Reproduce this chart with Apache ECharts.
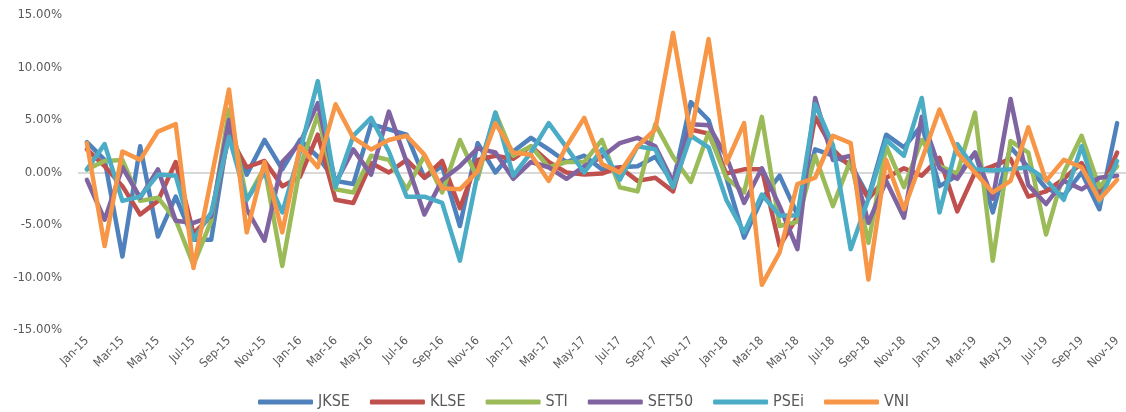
<!DOCTYPE html>
<html>
<head>
<meta charset="utf-8">
<script src="https://cdn.jsdelivr.net/npm/echarts@6/dist/echarts.min.js"></script>
<style>
  html, body { margin: 0; padding: 0; background: #fff; }
  #chart { width: 1126px; height: 412px; }
</style>
</head>
<body>
<div id="chart"></div>
<script>
// 月份
const months = [];
const monthNames = ['Jan','Feb','Mar','Apr','May','Jun','Jul','Aug','Sep','Oct','Nov','Dec'];
for (let y = 15; y <= 19; y++) {
  for (let m = 0; m < 12; m++) {
    if (y === 19 && m > 10) break;
    months.push(monthNames[m] + '-' + y);
  }
}

// 各指数月收益率 (%)
const JKSE = [2.9, 1.2, -8.0, 2.5, -6.1, -2.3, -6.4, -6.4, 4.2, -0.2,
  3.1, 0.3, 3.1, 1.5, -0.8, -1.1, 4.6, 4.1, 3.6, -0.5,
  0.6, -5.1, 2.8, 0.0, 2.0, 3.3, 2.2, 1.0, 1.6, 0.3,
  0.5, 0.6, 1.5, -1.0, 6.7, 5.0, -0.5, -6.2, -2.5, -0.3,
  -4.0, 2.2, 1.6, 0.8, -2.3, 3.6, 2.4, 4.5, -1.3, -0.3,
  1.9, -3.8, 2.4, 0.5, -1.5, -2.2, 0.0, -3.5, 4.7];
const KLSE = [2.2, 0.6, -1.3, -4.0, -2.7, 1.0, -5.8, -4.2, 3.5, 0.5,
  1.1, -1.3, -0.4, 3.6, -2.6, -2.9, 0.9, 0.0, 1.2, -0.5,
  1.1, -3.4, 1.2, 1.6, 1.3, 2.5, 1.0, 0.0, -0.2, -0.1,
  0.5, -0.8, -0.5, -1.8, 4.1, 3.7, -0.1, 0.3, 0.3, -7.0,
  -4.2, 5.3, 2.2, 0.5, -2.5, -0.5, 0.4, -0.3, 1.4, -3.7,
  0.0, 0.6, 1.3, -2.3, -1.8, -0.6, 0.9, -2.0, 1.9];
const STI = [0.3, 1.1, 1.2, -2.7, -2.4, -4.5, -8.8, -4.6, 6.0, -2.6,
  0.5, -8.9, 0.5, 5.5, -1.6, -1.9, 1.6, 1.2, -1.6, 1.6,
  -1.9, 3.1, -0.6, 5.7, 1.6, 2.5, 0.5, 1.0, 1.0, 3.1,
  -1.4, -1.8, 4.6, 1.5, -0.9, 3.8, -0.5, -1.9, 5.3, -5.1,
  -4.7, 1.6, -3.2, 1.2, -6.7, 2.5, -1.4, 3.1, 0.6, -0.1,
  5.7, -8.4, 3.0, 1.9, -5.9, 0.0, 3.5, -1.4, 0.6];
const SET50 = [-0.7, -4.5, 0.5, -2.4, 0.3, -4.6, -4.8, -4.2, 5.0, -3.5,
  -6.5, 1.0, 2.8, 6.6, -1.0, 2.2, -0.2, 5.8, 1.0, -4.0,
  -0.7, 0.6, 2.3, 1.9, -0.6, 1.0, 0.5, -0.6, 0.6, 1.5,
  2.8, 3.3, 2.5, -0.9, 4.6, 4.5, 1.5, -2.9, 0.4, -3.2,
  -7.3, 7.1, 1.2, 1.6, -4.8, -0.8, -4.3, 5.3, 0.4, -0.6,
  1.9, -2.5, 7.0, -1.2, -3.0, -0.8, -1.6, -0.5, -0.3];
const PSEi = [0.3, 2.7, -2.7, -2.3, -0.2, -0.3, -6.4, -3.8, 3.4, -2.6,
  0.0, -3.8, 2.0, 8.7, -1.4, 3.5, 5.2, 2.0, -2.3, -2.3,
  -2.9, -8.4, -0.1, 5.7, -0.3, 1.9, 4.7, 2.4, 0.0, 2.2,
  -0.7, 2.5, 2.2, -1.4, 3.5, 2.4, -2.6, -5.7, -2.1, -4.1,
  -4.1, 6.5, 2.6, -7.3, -2.5, 3.1, 1.6, 7.1, -3.8, 2.7,
  0.3, 0.2, 0.3, 0.5, -0.7, -2.6, 2.5, -2.8, 1.1];
const VNI = [2.8, -7.0, 2.0, 1.2, 3.9, 4.6, -9.1, -0.6, 7.9, -5.7,
  1.0, -5.7, 2.5, 0.5, 6.5, 3.3, 2.2, 3.1, 3.5, 1.7,
  -1.5, -1.6, 0.1, 4.7, 1.9, 1.7, -0.8, 2.5, 5.2, 0.8,
  0.0, 2.5, 4.1, 13.3, 3.5, 12.7, 0.9, 4.7, -10.7, -7.6,
  -1.1, -0.5, 3.5, 2.8, -10.2, 1.2, -3.5, 1.2, 6.0, 1.9,
  0.0, -1.9, -0.8, 4.3, -0.8, 1.2, 0.5, -2.6, -0.7];

const seriesNames = ['JKSE', 'KLSE', 'STI', 'SET50', 'PSEi', 'VNI'];
const seriesData = [JKSE, KLSE, STI, SET50, PSEi, VNI];
const colors = ['#4F81BD', '#C0504D', '#9BBB59', '#8064A2', '#4BACC6', '#F79646'];

const font = "'DejaVu Sans Condensed', 'Liberation Sans', sans-serif";

let chart = echarts.init(document.getElementById('chart'));

let option = {
  animation: false,
  color: colors,
  grid: {
    left: 78,
    right: -6,
    top: 15,
    bottom: 82
  },
  legend: {
    left: 253,
    top: 389,
    itemWidth: 55,
    itemHeight: 5,
    itemGap: 20,
    icon: 'roundRect',
    textStyle: {
      fontFamily: font,
      fontSize: 16,
      color: '#595959'
    },
    data: seriesNames
  },
  xAxis: {
    type: 'category',
    boundaryGap: true,
    data: months,
    axisLine: { show: false },
    axisTick: { show: false },
    axisLabel: {
      interval: 1,   // 隔月显示
      rotate: 45,
      margin: 9,
      fontFamily: font,
      fontSize: 12,
      color: '#595959'
    }
  },
  yAxis: {
    type: 'value',
    min: -15,
    max: 15,
    interval: 5,
    axisLine: { show: false },
    axisTick: { show: false },
    axisLabel: {
      margin: 16,
      fontFamily: font,
      fontSize: 13,
      color: '#595959',
      formatter: v => v.toFixed(2) + '%'
    },
    splitLine: {
      show: true,
      // 只显示0%那条线
      lineStyle: {
        width: 2,
        color: ['rgba(0,0,0,0)', 'rgba(0,0,0,0)', 'rgba(0,0,0,0)', '#D9D9D9',
                'rgba(0,0,0,0)', 'rgba(0,0,0,0)', 'rgba(0,0,0,0)']
      }
    }
  },
  series: seriesNames.map((name, i) => ({
    name: name,
    type: 'line',
    data: seriesData[i],
    symbol: 'none',
    lineStyle: {
      width: 4.5,
      color: colors[i],
      join: 'round',
      cap: 'round'
    }
  }))
};

chart.setOption(option);
</script>
</body>
</html>
